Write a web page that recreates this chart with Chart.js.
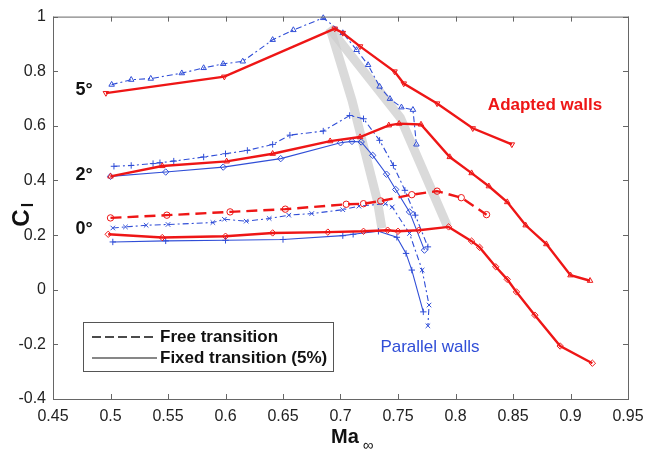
<!DOCTYPE html>
<html>
<head>
<meta charset="utf-8">
<script src="https://cdn.jsdelivr.net/npm/chart.js@4.4.1/dist/chart.umd.min.js"></script>
<style>
body{margin:0;background:#fff;}
#wrap{width:666px;height:451px;}
</style>
</head>
<body>
<div id="wrap"><canvas id="chartContainer" width="666" height="451"></canvas></div>
<script>
// Ma (x) and Cl (y), one pair of arrays per curve
var maRed5 = [0.496, 0.599, 0.695, 0.702, 0.717, 0.747, 0.755, 0.784, 0.815, 0.849];
var clRed5 = [0.720, 0.780, 0.956, 0.940, 0.891, 0.799, 0.755, 0.682, 0.591, 0.532];

var maRed2 = [0.500, 0.545, 0.601, 0.641, 0.691, 0.717, 0.742, 0.751, 0.770, 0.795, 0.814, 0.829, 0.845, 0.861, 0.879, 0.900, 0.917];
var clRed2 = [0.415, 0.453, 0.470, 0.498, 0.544, 0.559, 0.602, 0.608, 0.605, 0.486, 0.427, 0.379, 0.321, 0.236, 0.167, 0.053, 0.033];

var maRed0Free = [0.500, 0.549, 0.604, 0.652, 0.705, 0.720, 0.735, 0.762, 0.784, 0.805, 0.827];
var clRed0Free = [0.263, 0.273, 0.285, 0.295, 0.313, 0.315, 0.325, 0.348, 0.361, 0.337, 0.275];

var maRed0Fixed = [0.498, 0.545, 0.600, 0.641, 0.689, 0.720, 0.741, 0.750, 0.768, 0.794, 0.814, 0.821, 0.835, 0.845, 0.853, 0.869, 0.891, 0.919];
var clRed0Fixed = [0.203, 0.191, 0.196, 0.208, 0.211, 0.214, 0.218, 0.214, 0.218, 0.230, 0.178, 0.155, 0.084, 0.038, -0.008, -0.093, -0.206, -0.269];

var maBlue5Free = [0.501, 0.518, 0.535, 0.562, 0.581, 0.598, 0.615, 0.641, 0.659, 0.685, 0.702, 0.714, 0.724, 0.734, 0.743, 0.753, 0.763, 0.766];
var clBlue5Free = [0.751, 0.769, 0.773, 0.793, 0.812, 0.827, 0.836, 0.915, 0.951, 0.995, 0.940, 0.878, 0.823, 0.744, 0.699, 0.668, 0.659, 0.532];

var maBlue2Free = [0.503, 0.518, 0.537, 0.543, 0.555, 0.581, 0.600, 0.619, 0.641, 0.656, 0.685, 0.708, 0.720, 0.734, 0.746, 0.756, 0.765, 0.776];
var clBlue2Free = [0.452, 0.455, 0.462, 0.465, 0.471, 0.486, 0.498, 0.510, 0.532, 0.566, 0.581, 0.638, 0.626, 0.547, 0.455, 0.364, 0.273, 0.157];

var maBlue2Fixed = [0.500, 0.548, 0.598, 0.648, 0.700, 0.710, 0.718, 0.728, 0.740, 0.748, 0.760, 0.773];
var clBlue2Fixed = [0.415, 0.431, 0.449, 0.480, 0.538, 0.543, 0.541, 0.492, 0.423, 0.367, 0.285, 0.145];

var maBlue0Free = [0.502, 0.513, 0.531, 0.550, 0.589, 0.599, 0.618, 0.638, 0.655, 0.675, 0.702, 0.716, 0.739, 0.745, 0.760, 0.771, 0.777, 0.776];
var clBlue0Free = [0.226, 0.230, 0.236, 0.239, 0.246, 0.258, 0.251, 0.261, 0.273, 0.279, 0.293, 0.306, 0.315, 0.303, 0.206, 0.072, -0.056, -0.132];

var maBlue0Fixed = [0.502, 0.548, 0.600, 0.650, 0.702, 0.711, 0.733, 0.749, 0.757, 0.762, 0.772];
var clBlue0Fixed = [0.175, 0.179, 0.181, 0.184, 0.198, 0.203, 0.214, 0.192, 0.133, 0.072, -0.081];

// grey bands through the Cl max points
var maBandBlue = [0.691, 0.710, 0.732, 0.736];
var clBandBlue = [0.956, 0.693, 0.327, 0.225];
var maBandRed = [0.690, 0.752, 0.793];
var clBandRed = [0.960, 0.630, 0.232];

var xTicks = [0.45, 0.5, 0.55, 0.6, 0.65, 0.7, 0.75, 0.8, 0.85, 0.9, 0.95];
var yTicks = [-0.4, -0.2, 0, 0.2, 0.4, 0.6, 0.8, 1];

var RED = 'rgb(238,22,22)';
var BLUE = 'rgb(48,78,215)';
var FONT = '"Liberation Sans", Arial, sans-serif';

function pts(xs, ys) {
	var out = [];
	for (var i = 0; i < xs.length; i++) out.push({x: xs[i], y: ys[i]});
	return out;
}

function red(xs, ys, style, rot, dash) {
	return {data: pts(xs, ys), borderColor: RED, backgroundColor: 'rgba(0,0,0,0)', borderWidth: 2.4,
		borderDash: dash || [], pointStyle: style, rotation: rot, pointRadius: 3.2, pointBorderWidth: 1,
		pointBorderColor: RED, showLine: true, clip: false, order: 1};
}
function blue(xs, ys, style, dash) {
	return {data: pts(xs, ys), borderColor: BLUE, backgroundColor: 'rgba(0,0,0,0)', borderWidth: 1.1,
		borderDash: dash || [], pointStyle: style, rotation: 0, pointRadius: 3.2, pointBorderWidth: 1,
		pointBorderColor: BLUE, showLine: true, clip: false, order: 2};
}
function band(xs, ys) {
	return {data: pts(xs, ys), borderColor: 'rgba(205,205,205,0.75)', borderWidth: 9, pointRadius: 0,
		showLine: true, order: 5, borderCapStyle: 'butt'};
}

var frame = {
	id: 'frame',
	afterDraw: function (chart) {
		var ctx = chart.ctx, a = chart.chartArea, sx = chart.scales.x, sy = chart.scales.y;
		ctx.save();
		ctx.strokeStyle = '#666';
		ctx.lineWidth = 1;
		ctx.strokeRect(a.left + 0.5, a.top + 0.5, a.right - a.left, a.bottom - a.top);
		ctx.beginPath();
		for (var i = 0; i < xTicks.length; i++) {
			var px = Math.round(sx.getPixelForValue(xTicks[i])) + 0.5;
			ctx.moveTo(px, a.bottom); ctx.lineTo(px, a.bottom - 5);
			ctx.moveTo(px, a.top); ctx.lineTo(px, a.top + 5);
		}
		for (var j = 0; j < yTicks.length; j++) {
			var py = Math.round(sy.getPixelForValue(yTicks[j])) + 0.5;
			ctx.moveTo(a.left, py); ctx.lineTo(a.left + 5, py);
			ctx.moveTo(a.right, py); ctx.lineTo(a.right - 5, py);
		}
		ctx.stroke();

		// angle labels
		ctx.fillStyle = '#111';
		ctx.font = 'bold 18px ' + FONT;
		ctx.textAlign = 'center';
		ctx.textBaseline = 'middle';
		ctx.fillText('5°', 84, 90);
		ctx.fillText('2°', 84, 175);
		ctx.fillText('0°', 84, 229);

		ctx.fillStyle = RED;
		ctx.font = 'bold 17px ' + FONT;
		ctx.fillText('Adapted walls', 545, 105);
		ctx.fillStyle = BLUE;
		ctx.font = '17px ' + FONT;
		ctx.fillText('Parallel walls', 430, 347);

		// legend box
		ctx.fillStyle = '#fff';
		ctx.fillRect(83, 322, 250, 49);
		ctx.strokeStyle = '#555';
		ctx.strokeRect(83.5, 322.5, 250, 49);
		ctx.strokeStyle = '#111';
		ctx.lineWidth = 1.6;
		ctx.setLineDash([9, 4]);
		ctx.beginPath(); ctx.moveTo(92, 337); ctx.lineTo(157, 337); ctx.stroke();
		ctx.setLineDash([]);
		ctx.lineWidth = 1.2;
		ctx.beginPath(); ctx.moveTo(92, 358); ctx.lineTo(157, 358); ctx.stroke();
		ctx.fillStyle = '#111';
		ctx.font = 'bold 17px ' + FONT;
		ctx.textAlign = 'left';
		ctx.fillText('Free transition', 160, 337);
		ctx.fillText('Fixed transition (5%)', 160, 358);

		// axis titles
		ctx.textAlign = 'center';
		ctx.font = 'bold 20px ' + FONT;
		ctx.fillText('Ma', 345, 437);
		ctx.font = '15px ' + FONT;
		ctx.fillText('\u221e', 368, 446);
		ctx.save();
		ctx.translate(22, 218);
		ctx.rotate(-Math.PI / 2);
		ctx.font = 'bold 24px ' + FONT;
		ctx.fillText('C', 0, 0);
		ctx.font = 'bold 16px ' + FONT;
		ctx.fillText('l', 13, 7);
		ctx.restore();
		ctx.restore();
	}
};

window.onload = function () {
	var myChart = document.getElementById('chartContainer').getContext('2d');
	var popChart = new Chart(myChart, {
		type: 'scatter',
		data: {
			datasets: [
				red(maRed5, clRed5, 'triangle', 180),
				red(maRed2, clRed2, 'triangle', 0),
				red(maRed0Free, clRed0Free, 'circle', 0, [11, 6]),
				red(maRed0Fixed, clRed0Fixed, 'rectRot', 0),
				blue(maBlue5Free, clBlue5Free, 'triangle', [6, 3, 2, 3]),
				blue(maBlue2Free, clBlue2Free, 'cross', [6, 3, 2, 3]),
				blue(maBlue2Fixed, clBlue2Fixed, 'rectRot'),
				blue(maBlue0Free, clBlue0Free, 'crossRot', [6, 3, 2, 3]),
				blue(maBlue0Fixed, clBlue0Fixed, 'cross'),
				band(maBandBlue, clBandBlue),
				band(maBandRed, clBandRed)
			]
		},
		options: {
			responsive: false,
			animation: false,
			devicePixelRatio: 1,
			layout: {padding: {left: 0, right: 38, top: 16, bottom: 0}},
			plugins: {legend: {display: false}, tooltip: {enabled: false}},
			scales: {
				x: {
					type: 'linear', min: 0.45, max: 0.95,
					grid: {display: false, drawTicks: false},
					border: {display: false},
					afterBuildTicks: function (s) { s.ticks = xTicks.map(function (v) { return {value: v}; }); },
					afterFit: function (s) { s.height = 52; },
					ticks: {
						padding: 8, color: '#222', maxRotation: 0, autoSkip: false,
						font: {family: FONT, size: 16},
						callback: function (v) { return String(Number(v.toFixed(2))); }
					}
				},
				y: {
					type: 'linear', min: -0.4, max: 1,
					grid: {display: false, drawTicks: false},
					border: {display: false},
					afterBuildTicks: function (s) { s.ticks = yTicks.map(function (v) { return {value: v}; }); },
					afterFit: function (s) { s.width = 53; },
					ticks: {
						padding: 7, color: '#222', autoSkip: false,
						font: {family: FONT, size: 16},
						callback: function (v) { return String(Number(v.toFixed(1))); }
					}
				}
			}
		},
		plugins: [frame]
	});
};
</script>
</body>
</html>
